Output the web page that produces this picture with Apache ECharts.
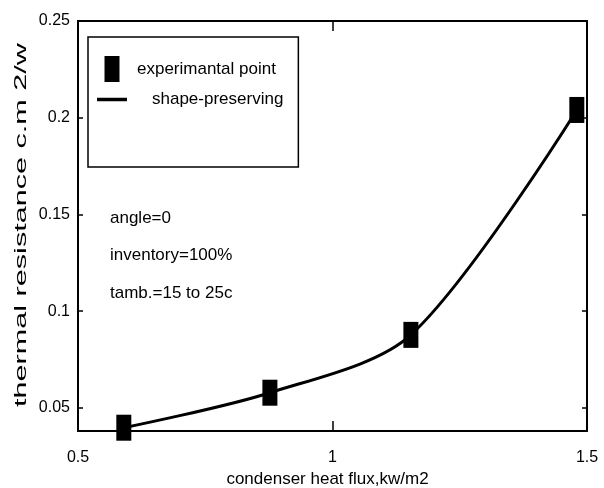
<!DOCTYPE html>
<html>
<head>
<meta charset="utf-8">
<script src="https://cdn.jsdelivr.net/npm/echarts@6/dist/echarts.min.js"></script>
<style>
  html, body { margin: 0; padding: 0; background: #fff; }
  #chart { width: 604px; height: 488px; }
</style>
</head>
<body>
<div id="chart"></div>
<script>
// Condenser heat flux (kW/m2) and measured thermal resistance
const heatFlux = [0.59, 0.877, 1.154, 1.48];
const resistance = [0.0397, 0.0578, 0.0877, 0.204];

const xTicks = [0.5, 1, 1.5];
const yTicks = [0.05, 0.1, 0.15, 0.2, 0.25];

const seriesNames = ['experimantal point', 'shape-preserving'];
const notes = ['angle=0', 'inventory=100%', 'tamb.=15 to 25c'];
const xTitle = 'condenser heat flux,kw/m2';
const yTitle = 'thermal resistance c.m 2/w';

const SANS = '"Liberation Sans", Arial, sans-serif';

const points = heatFlux.map((x, i) => [x, resistance[i]]);

const frameLine = { show: true, lineStyle: { color: '#000', width: 2 } };
const tickStyle = { color: '#000', width: 1.5 };

const chart = echarts.init(document.getElementById('chart'), null, { renderer: 'canvas' });

chart.setOption({
  backgroundColor: '#fff',
  animation: false,
  grid: { left: 78, right: 17, top: 21, bottom: 57, containLabel: false, outerBoundsMode: 'none' },
  xAxis: [
    {
      type: 'value', position: 'bottom',
      min: xTicks[0], max: xTicks[xTicks.length - 1], interval: 0.5,
      axisLine: frameLine,
      axisTick: { show: true, inside: true, length: 10, lineStyle: tickStyle },
      axisLabel: { color: '#000', fontFamily: SANS, fontSize: 16, margin: 19 },
      splitLine: { show: false },
      name: xTitle, nameLocation: 'middle', nameGap: 32,
      nameTextStyle: { color: '#000', fontFamily: SANS, fontSize: 17, padding: [0, 10, 0, 0] }
    },
    {
      type: 'value', position: 'top',
      min: xTicks[0], max: xTicks[xTicks.length - 1], interval: 0.5,
      axisLine: frameLine,
      axisTick: { show: true, inside: true, length: 10, lineStyle: tickStyle },
      axisLabel: { show: false },
      splitLine: { show: false }
    }
  ],
  yAxis: [
    {
      type: 'value', position: 'left',
      min: 0.038, max: yTicks[yTicks.length - 1],
      axisLine: frameLine,
      axisTick: { show: true, inside: true, length: 5, customValues: yTicks, lineStyle: tickStyle },
      axisLabel: { color: '#000', fontFamily: SANS, fontSize: 16, margin: 8, customValues: yTicks },
      splitLine: { show: false }
    },
    {
      type: 'value', position: 'right',
      min: 0.038, max: yTicks[yTicks.length - 1],
      axisLine: frameLine,
      axisTick: { show: true, inside: true, length: 5, customValues: yTicks, lineStyle: tickStyle },
      axisLabel: { show: false, customValues: yTicks },
      splitLine: { show: false }
    }
  ],
  legend: {
    orient: 'vertical',
    left: 88, top: 37,
    padding: [19, 15, 59, 9],
    itemGap: 9,
    itemWidth: 30,
    itemHeight: 26,
    selectedMode: false,
    borderColor: '#000',
    borderWidth: 1.5,
    textStyle: { color: '#000', fontFamily: SANS, fontSize: 17 },
    data: [
      { name: seriesNames[0], icon: 'path://M0,0H15V26H0Z', itemStyle: { color: '#000', opacity: 1 }, textStyle: { padding: [0, 0, 0, 5] } },
      { name: seriesNames[1], icon: 'path://M0,0H30V3.5H0Z', itemStyle: { color: '#000', opacity: 1 }, textStyle: { padding: [0, 0, 0, 20] } }
    ]
  },
  graphic: [
    {
      type: 'text', x: 21, y: 225, rotation: Math.PI / 2, scaleX: 1.8,
      style: { text: yTitle, font: '17px ' + SANS, fill: '#000', align: 'center', verticalAlign: 'middle' }
    },
    ...notes.map((t, i) => ({
      type: 'text', x: 110, y: 218 + i * 37.5,
      style: { text: t, font: '17px ' + SANS, fill: '#000', align: 'left', verticalAlign: 'middle' }
    }))
  ],
  series: [
    {
      name: seriesNames[1],
      type: 'line',
      data: points,
      smooth: 0.3,
      symbol: 'none',
      lineStyle: { color: '#000', width: 3 },
      itemStyle: { color: '#000' },
      z: 2
    },
    {
      name: seriesNames[0],
      type: 'scatter',
      data: points,
      symbol: 'rect',
      symbolSize: [15, 26],
      itemStyle: { color: '#000', opacity: 1 },
      z: 3
    }
  ]
});
</script>
</body>
</html>
